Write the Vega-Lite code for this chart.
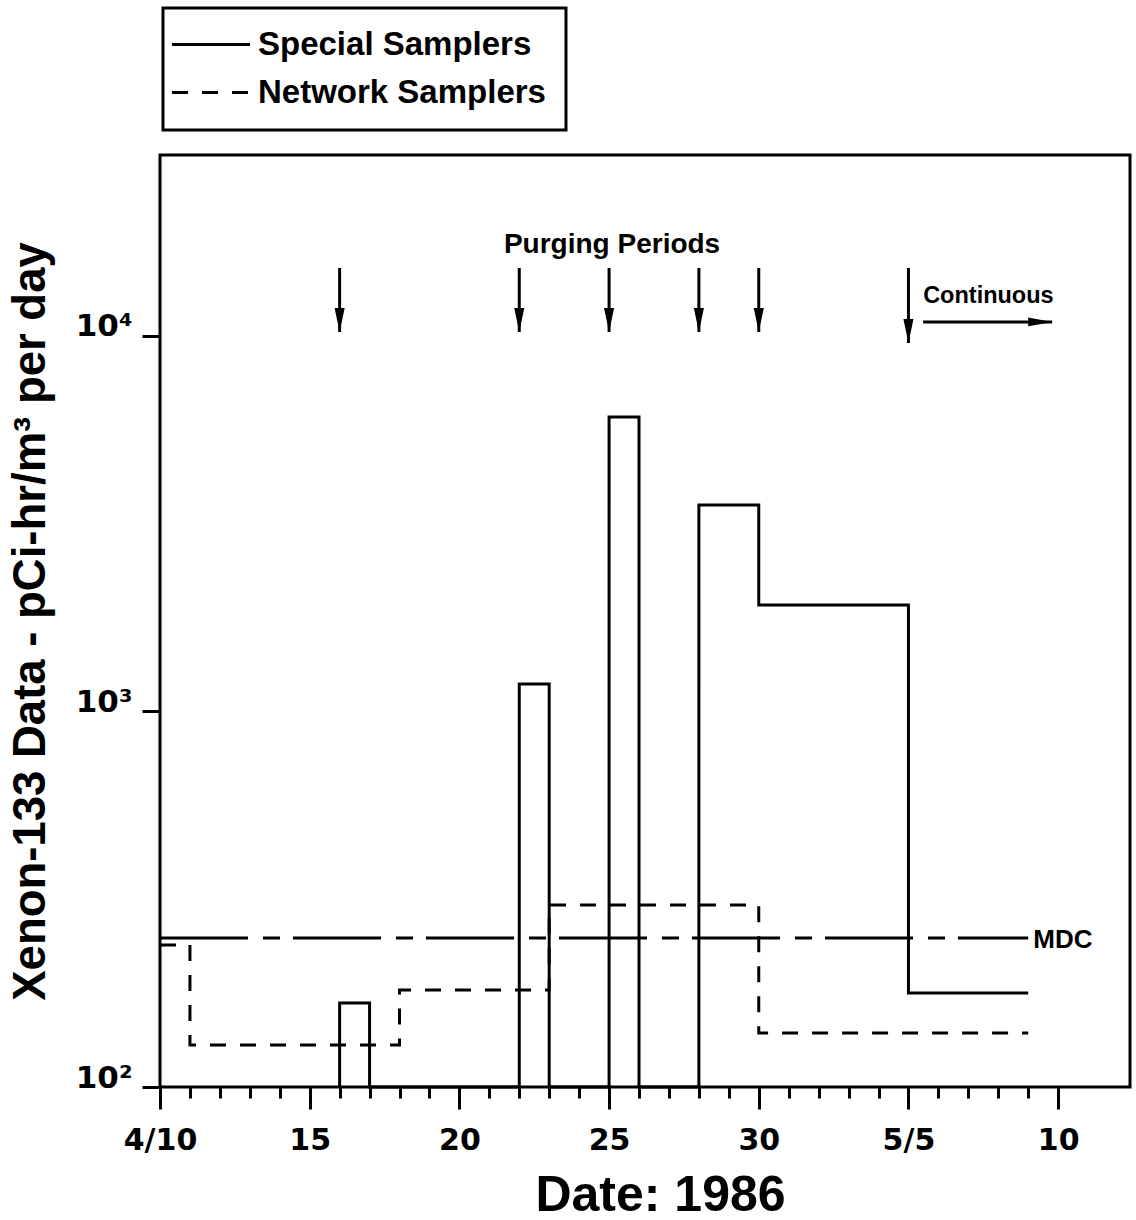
{
  "$schema": "https://vega.github.io/schema/vega-lite/v6.json",
  "width": 970,
  "height": 932,
  "autosize": {"type": "none"},
  "padding": {"left": 160, "top": 155, "right": 6, "bottom": 133},
  "background": "white",
  "config": {
    "view": {"stroke": "black", "strokeWidth": 3},
    "font": "Liberation Sans"
  },
  "datasets": {
    "samplers": [
      {"series": "Special Samplers", "i": 0, "day": 6, "value": 100},
      {"series": "Special Samplers", "i": 1, "day": 6, "value": 167.4},
      {"series": "Special Samplers", "i": 2, "day": 7, "value": 100},
      {"series": "Special Samplers", "i": 3, "day": 12, "value": 1184},
      {"series": "Special Samplers", "i": 4, "day": 13, "value": 100},
      {"series": "Special Samplers", "i": 5, "day": 15, "value": 6085},
      {"series": "Special Samplers", "i": 6, "day": 16, "value": 100},
      {"series": "Special Samplers", "i": 7, "day": 18, "value": 3548},
      {"series": "Special Samplers", "i": 8, "day": 20, "value": 1921},
      {"series": "Special Samplers", "i": 9, "day": 25, "value": 178},
      {"series": "Special Samplers", "i": 10, "day": 29, "value": 178},
      {"series": "Network Samplers", "i": 0, "day": 0, "value": 238.9},
      {"series": "Network Samplers", "i": 1, "day": 1, "value": 129.4},
      {"series": "Network Samplers", "i": 2, "day": 8, "value": 181.3},
      {"series": "Network Samplers", "i": 3, "day": 13, "value": 305.3},
      {"series": "Network Samplers", "i": 4, "day": 20, "value": 139.3},
      {"series": "Network Samplers", "i": 5, "day": 29, "value": 139.3}
    ],
    "mdc": [{"day": 0, "end": 29, "value": 249.4}],
    "mdcLabel": [{"day": 29.17, "value": 234.6, "label": "MDC"}],
    "arrows": [
      {"day": 6, "value": 15180, "tip": 10250},
      {"day": 12, "value": 15180, "tip": 10250},
      {"day": 15, "value": 15180, "tip": 10250},
      {"day": 18, "value": 15180, "tip": 10250},
      {"day": 20, "value": 15180, "tip": 10250},
      {"day": 25, "value": 15180, "tip": 9580}
    ],
    "arrowHeads": [
      {"day": 6, "value": 10250},
      {"day": 12, "value": 10250},
      {"day": 15, "value": 10250},
      {"day": 18, "value": 10250},
      {"day": 20, "value": 10250},
      {"day": 25, "value": 9580}
    ],
    "continuous": [{"day": 25.49, "end": 29.8, "value": 10900}],
    "continuousHead": [{"day": 29.8, "value": 10900}],
    "continuousLabel": [{"day": 25.49, "value": 12240, "label": "Continuous"}],
    "purging": [{"day": 15.1, "value": 16640, "label": "Purging Periods"}]
  },
  "layer": [
    {
      "data": {"name": "samplers"},
      "mark": {"type": "line", "interpolate": "step-after", "strokeWidth": 3, "color": "black", "clip": false},
      "encoding": {
        "x": {
          "field": "day", "type": "quantitative",
          "scale": {"type": "linear", "domain": [0, 32.4], "nice": false, "zero": false},
          "axis": {
            "values": [0,1,2,3,4,5,6,7,8,9,10,11,12,13,14,15,16,17,18,19,20,21,22,23,24,25,26,27,28,29,30],
            "tickCount": 60,
            "labelExpr": "datum.value == 0 ? '4/10' : datum.value == 25 ? '5/5' : datum.value % 5 == 0 ? (datum.value <= 20 ? toString(datum.value + 10) : toString(datum.value - 20)) : ''",
            "tickSize": {"condition": {"test": "datum.value % 5 === 0", "value": 22}, "value": 11},
            "tickWidth": 3,
            "tickColor": "black",
            "domain": false,
            "grid": false,
            "labelFont": "DejaVu Sans",
            "labelFontWeight": "bold",
            "labelFontSize": 30,
            "labelColor": "black",
            "labelPadding": 16,
            "labelOverlap": false,
            "labelFlush": false,
            "title": "Date: 1986",
            "titleFont": "Liberation Sans",
            "titleFontSize": 50,
            "titleFontWeight": "bold",
            "titleColor": "black",
            "titleX": 500,
            "titleY": 83,
            "titleAlign": "center",
            "titleBaseline": "top"
          }
        },
        "y": {
          "field": "value", "type": "quantitative",
          "scale": {"type": "log", "domain": [100, 30340], "nice": false},
          "axis": {
            "values": [100, 1000, 10000],
            "tickCount": 10,
            "labelExpr": "datum.value == 100 ? '10²' : datum.value == 1000 ? '10³' : '10⁴'",
            "tickSize": 18,
            "tickWidth": 3,
            "tickColor": "black",
            "domain": false,
            "grid": false,
            "labelFont": "DejaVu Sans",
            "labelFontWeight": "bold",
            "labelFontSize": 31,
            "labelColor": "black",
            "labelPadding": 10,
            "labelBaseline": "alphabetic",
            "labelFlush": false,
            "labelOverlap": false,
            "title": "Xenon-133 Data - pCi-hr/m³ per day",
            "titleFont": "Liberation Sans",
            "titleFontSize": 45.5,
            "titleFontWeight": "bold",
            "titleColor": "black",
            "titlePadding": 21
          }
        },
        "strokeDash": {
          "field": "series", "type": "nominal",
          "scale": {"domain": ["Special Samplers", "Network Samplers"], "range": [[1, 0], [16, 14]]},
          "legend": {
            "orient": "none",
            "legendX": 3,
            "legendY": -147,
            "title": null,
            "symbolType": "M-2.6,0H2.6",
            "symbolSize": 900,
            "symbolStrokeWidth": 3,
            "symbolStrokeColor": "black",
            "symbolOffset": 11.5,
            "labelOffset": 30.5,
            "labelLimit": 600,
            "padding": 20,
            "rowPadding": 14,
            "labelFont": "Liberation Sans",
            "labelFontWeight": "bold",
            "labelFontSize": 33,
            "labelColor": "black",
            "strokeColor": "black",
            "encode": {"legend": {"update": {"stroke": {"value": "black"}, "strokeWidth": {"value": 3}, "width": {"value": 419}}}}
          }
        },
        "order": {"field": "i", "type": "quantitative"}
      }
    },
    {
      "data": {"name": "mdc"},
      "mark": {"type": "rule", "strokeWidth": 3, "color": "black", "strokeDash": [88, 15, 17, 13]},
      "encoding": {
        "x": {"field": "day", "type": "quantitative"},
        "x2": {"field": "end"},
        "y": {"field": "value", "type": "quantitative"}
      }
    },
    {
      "data": {"name": "mdcLabel"},
      "mark": {"type": "text", "align": "left", "baseline": "alphabetic", "font": "Liberation Sans", "fontWeight": "bold", "fontSize": 26, "color": "black"},
      "encoding": {
        "x": {"field": "day", "type": "quantitative"},
        "y": {"field": "value", "type": "quantitative"},
        "text": {"field": "label"}
      }
    },
    {
      "data": {"name": "arrows"},
      "mark": {"type": "rule", "strokeWidth": 3, "color": "black"},
      "encoding": {
        "x": {"field": "day", "type": "quantitative"},
        "y": {"field": "value", "type": "quantitative"},
        "y2": {"field": "tip"}
      }
    },
    {
      "data": {"name": "arrowHeads"},
      "mark": {"type": "point", "shape": "M-0.42,-2L0.42,-2L0,0Z", "size": 576, "filled": true, "color": "black", "opacity": 1, "strokeWidth": 0},
      "encoding": {
        "x": {"field": "day", "type": "quantitative"},
        "y": {"field": "value", "type": "quantitative"}
      }
    },
    {
      "data": {"name": "continuous"},
      "mark": {"type": "rule", "strokeWidth": 3, "color": "black"},
      "encoding": {
        "x": {"field": "day", "type": "quantitative"},
        "x2": {"field": "end"},
        "y": {"field": "value", "type": "quantitative"}
      }
    },
    {
      "data": {"name": "continuousHead"},
      "mark": {"type": "point", "shape": "M0,0L-2,-0.36L-2,0.36Z", "size": 576, "filled": true, "color": "black", "opacity": 1, "strokeWidth": 0},
      "encoding": {
        "x": {"field": "day", "type": "quantitative"},
        "y": {"field": "value", "type": "quantitative"}
      }
    },
    {
      "data": {"name": "continuousLabel"},
      "mark": {"type": "text", "align": "left", "baseline": "alphabetic", "font": "Liberation Sans", "fontWeight": "bold", "fontSize": 23.5, "color": "black"},
      "encoding": {
        "x": {"field": "day", "type": "quantitative"},
        "y": {"field": "value", "type": "quantitative"},
        "text": {"field": "label"}
      }
    },
    {
      "data": {"name": "purging"},
      "mark": {"type": "text", "align": "center", "baseline": "alphabetic", "font": "Liberation Sans", "fontWeight": "bold", "fontSize": 28, "color": "black"},
      "encoding": {
        "x": {"field": "day", "type": "quantitative"},
        "y": {"field": "value", "type": "quantitative"},
        "text": {"field": "label"}
      }
    }
  ]
}
